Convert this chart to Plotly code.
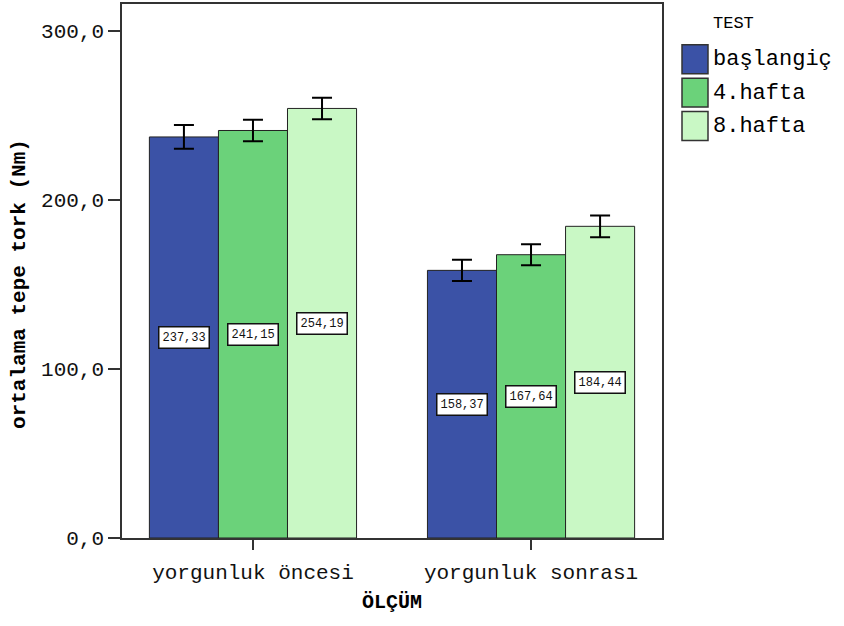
import plotly.graph_objects as go

categories = ["yorgunluk öncesi", "yorgunluk sonrası"]
series_names = ["başlangiç", "4.hafta", "8.hafta"]
means = [
    [237.33, 158.37],
    [241.15, 167.64],
    [254.19, 184.44],
]
errors = [
    [7.0, 6.3],
    [6.4, 6.2],
    [6.4, 6.4],
]
value_labels = [
    ["237,33", "158,37"],
    ["241,15", "167,64"],
    ["254,19", "184,44"],
]
colors = ["#3b52a6", "#6bd27a", "#c9f8c5"]
y_ticks = [0, 100, 200, 300]
y_tick_text = ["0,0", "100,0", "200,0", "300,0"]
legend_title = "TEST"
y_title = "ortalama tepe tork (Nm)"
x_title = "ÖLÇÜM"

FONT = "Liberation Mono, Courier New, monospace"

W, H = 844, 626
ml, mr, mt, mb = 122, 182, 2, 88
pw, ph = W - ml - mr, H - mt - mb


def px(xp):
    return (xp - ml) / pw


def py(yp):
    return 1 - (yp - mt) / ph


fig = go.Figure()
for i, name in enumerate(series_names):
    fig.add_trace(go.Bar(
        x=categories, y=means[i], name=name,
        marker=dict(color=colors[i], line=dict(color="#222222", width=1)),
        error_y=dict(type="data", array=errors[i], color="black", thickness=2, width=10),
        showlegend=False,
    ))

bar_w = (1 - 0.255) / 3
annotations = []
for i in range(3):
    for j in range(2):
        annotations.append(dict(
            x=j + (i - 1) * bar_w, y=means[i][j] / 2, xref="x", yref="y",
            text=value_labels[i][j], showarrow=False,
            font=dict(family=FONT, size=12, color="#111111"),
            bgcolor="white", bordercolor="#111111", borderwidth=1.5, borderpad=3,
        ))

# y-axis title placed like the reference (slightly below the plot centre)
annotations.append(dict(x=px(20), y=py(283), xref="paper", yref="paper",
                        xanchor="center", yanchor="middle", textangle=-90,
                        text="<b>" + y_title + "</b>", showarrow=False,
                        font=dict(family=FONT, size=21, color="black")))

# custom legend (large swatches as in the reference)
shapes = []
annotations.append(dict(x=px(711), y=py(22), xref="paper", yref="paper",
                        xanchor="left", yanchor="middle", text=legend_title,
                        showarrow=False, font=dict(family=FONT, size=17, color="black")))
for i, name in enumerate(series_names):
    top = 43 + i * 33.5
    shapes.append(dict(type="rect", xref="paper", yref="paper",
                       x0=px(682), x1=px(708), y0=py(top), y1=py(top + 29),
                       fillcolor=colors[i], line=dict(color="#333333", width=1.5)))
    annotations.append(dict(x=px(711), y=py(top + 15), xref="paper", yref="paper",
                            xanchor="left", yanchor="middle", text=name, showarrow=False,
                            font=dict(family=FONT, size=22, color="black")))

fig.update_layout(
    width=W, height=H,
    margin=dict(l=ml, r=mr, t=mt, b=mb),
    paper_bgcolor="white", plot_bgcolor="white",
    barmode="group", bargap=0.255, bargroupgap=0,
    font=dict(family=FONT, color="black"),
    annotations=annotations, shapes=shapes,
    xaxis=dict(
        range=[-0.471, 1.471], showline=True, linecolor="#333333", linewidth=1.5,
        mirror=True, ticks="outside", ticklen=10, tickcolor="#333333", tickwidth=1.5,
        ticklabelstandoff=4,
        tickfont=dict(family=FONT, size=21, color="#111111"),
        title=dict(text="<b>" + x_title + "</b>", font=dict(family=FONT, size=20, color="black"), standoff=10),
        showgrid=False,
    ),
    yaxis=dict(
        range=[0, 316], showline=True, linecolor="#333333", linewidth=1.5,
        mirror=True, ticks="outside", ticklen=12, tickcolor="#333333", tickwidth=1.5,
        tickvals=y_ticks, ticktext=y_tick_text,
        tickfont=dict(family=FONT, size=21, color="#111111"),
        showgrid=False, zeroline=False,
    ),
)

fig.write_html("out.html")
